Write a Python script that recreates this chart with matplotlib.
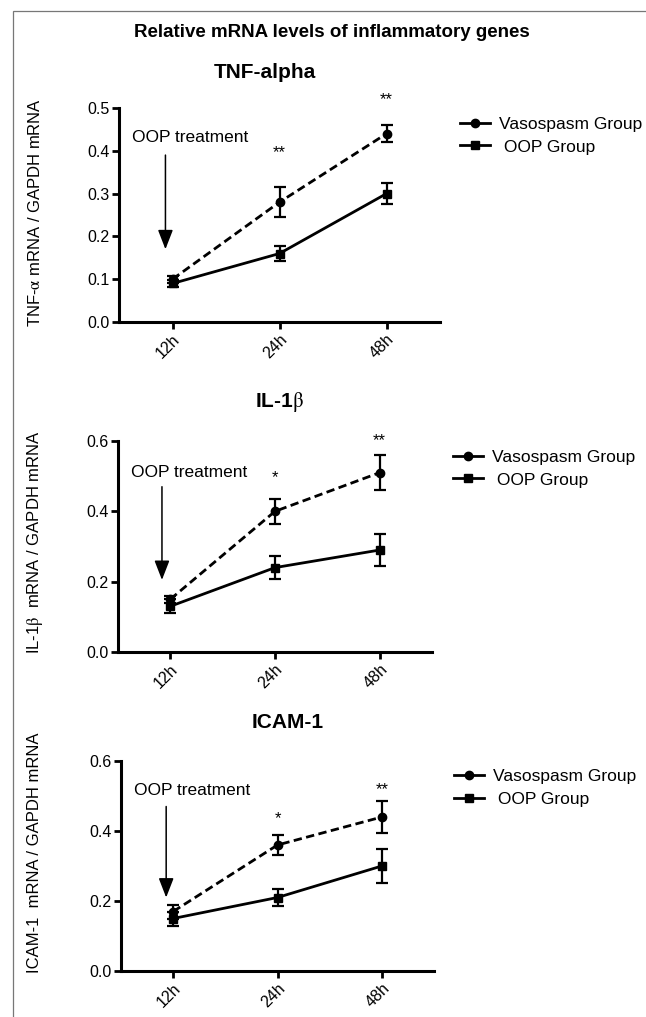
import numpy as np
import matplotlib
matplotlib.use("Agg")
import matplotlib.pyplot as plt
from matplotlib.lines import Line2D
from matplotlib.patches import Rectangle

plt.rcParams['font.family'] = ['Liberation Sans', 'DejaVu Sans']
plt.rcParams['mathtext.fontset'] = 'stix'

times = ['12h', '24h', '48h']

# TNF-alpha
tnf_vaso = [0.10, 0.28, 0.44]
tnf_vaso_err = [0.008, 0.035, 0.02]
tnf_oop = [0.09, 0.16, 0.30]
tnf_oop_err = [0.008, 0.017, 0.024]
tnf_stars = ['', '**', '**']
tnf_star_y = [0, 0.395, 0.52]

# IL-1beta
il_vaso = [0.15, 0.40, 0.51]
il_vaso_err = [0.01, 0.035, 0.05]
il_oop = [0.13, 0.24, 0.29]
il_oop_err = [0.02, 0.033, 0.045]
il_stars = ['', '*', '**']
il_star_y = [0, 0.495, 0.60]

# ICAM-1
icam_vaso = [0.17, 0.36, 0.44]
icam_vaso_err = [0.02, 0.028, 0.045]
icam_oop = [0.15, 0.21, 0.30]
icam_oop_err = [0.02, 0.025, 0.048]
icam_stars = ['', '*', '**']
icam_star_y = [0, 0.435, 0.518]

fig = plt.figure(figsize=(6.46, 10.17), dpi=100)

# gray frame round the figure (right/bottom edges fall outside the picture)
fig.add_artist(Rectangle((13/646, -0.1), 2, 1.1 - 11/1017, transform=fig.transFigure,
                         fill=False, edgecolor='#777777', lw=0.9))

fig.text(0.514, 0.9676, 'Relative mRNA levels of inflammatory genes',
         ha='center', va='center', fontsize=13.5, fontweight='bold')

panels = [
    dict(rect=[119/646, 1-322/1017, 321/646, 214/1017], title='TNF-alpha', tpos=(0.41, 0.929),
         ylabel=r'TNF-$\mathrm{\alpha}$ mRNA / GAPDH mRNA', ylcen=1-213/1017,
         ymax=0.5, yticks=[0.0, 0.1, 0.2, 0.3, 0.4, 0.5],
         vaso=tnf_vaso, vaso_err=tnf_vaso_err, oop=tnf_oop, oop_err=tnf_oop_err,
         stars=tnf_stars, star_y=tnf_star_y,
         txt_y=0.43, arr=(-0.066, 0.39, 0.17), leg=(460/646, 1-135.5/1017)),
    dict(rect=[118/646, 1-652/1017, 314/646, 211/1017], title=r'IL-1$\mathrm{\beta}$', tpos=(0.433, 0.6047),
         ylabel=r'IL-1$\mathrm{\beta}$  mRNA / GAPDH mRNA', ylcen=1-542/1017,
         ymax=0.6, yticks=[0.0, 0.2, 0.4, 0.6],
         vaso=il_vaso, vaso_err=il_vaso_err, oop=il_oop, oop_err=il_oop_err,
         stars=il_stars, star_y=il_star_y,
         txt_y=0.51, arr=(-0.08, 0.47, 0.205), leg=(453/646, 1-468.5/1017)),
    dict(rect=[121/646, 1-971/1017, 313/646, 210/1017], title='ICAM-1', tpos=(0.446, 0.29),
         ylabel='ICAM-1  mRNA / GAPDH mRNA', ylcen=1-853/1017,
         ymax=0.6, yticks=[0.0, 0.2, 0.4, 0.6],
         vaso=icam_vaso, vaso_err=icam_vaso_err, oop=icam_oop, oop_err=icam_oop_err,
         stars=icam_stars, star_y=icam_star_y,
         txt_y=0.517, arr=(-0.067, 0.47, 0.21), leg=(454/646, 1-788/1017)),
]

x = np.arange(len(times))
for p in panels:
    ax = fig.add_axes(p['rect'])
    ax.errorbar(x, p['vaso'], yerr=p['vaso_err'], color='k', lw=2.0, dashes=(3, 1.6),
                marker='o', ms=6, capsize=4, elinewidth=1.6, capthick=1.6, zorder=3)
    ax.errorbar(x, p['oop'], yerr=p['oop_err'], color='k', lw=2.0,
                marker='s', ms=6, capsize=4, elinewidth=1.6, capthick=1.6, zorder=3)
    for xi, s, sy in zip(x, p['stars'], p['star_y']):
        if s:
            ax.text(xi, sy, s, ha='center', va='center', fontsize=12)
    ax.text(-0.38, p['txt_y'], 'OOP treatment', ha='left', va='center', fontsize=12.5)
    ax_x, a_top, a_tip = p['arr']
    ax.annotate('', xy=(ax_x, a_tip), xytext=(ax_x, a_top),
                arrowprops=dict(arrowstyle='-|>,head_length=0.85,head_width=0.33',
                                mutation_scale=14, color='k', lw=1.1,
                                shrinkA=0, shrinkB=0))
    ax.set_xlim(-0.5, 2.5)
    ax.set_ylim(0, p['ymax'])
    ax.set_yticks(p['yticks'])
    ax.set_yticklabels(['%.1f' % v for v in p['yticks']])
    ax.set_xticks(x)
    ax.set_xticklabels(times, rotation=45, ha='right', va='top', rotation_mode='anchor')
    for s in ['top', 'right']:
        ax.spines[s].set_visible(False)
    for s in ['left', 'bottom']:
        ax.spines[s].set_linewidth(2.2)
    ax.tick_params(width=2, length=5, labelsize=11.5, pad=2)
    ax.patch.set_alpha(0)

    fig.text(p['tpos'][0], p['tpos'][1], p['title'], ha='center', va='center',
             fontsize=15, fontweight='bold')
    fig.text(35/646, p['ylcen'], p['ylabel'], ha='center', va='center',
             rotation=90, fontsize=12)

    handles = [Line2D([], [], color='k', lw=2, marker='o', ms=6),
               Line2D([], [], color='k', lw=2, marker='s', ms=6)]
    fig.legend(handles, ['Vasospasm Group', ' OOP Group'], loc='center left',
               bbox_to_anchor=p['leg'], frameon=False, fontsize=12.5,
               handlelength=1.7, handletextpad=0.55, labelspacing=0.45,
               borderpad=0, borderaxespad=0)

fig.savefig('out.png', dpi=100)
